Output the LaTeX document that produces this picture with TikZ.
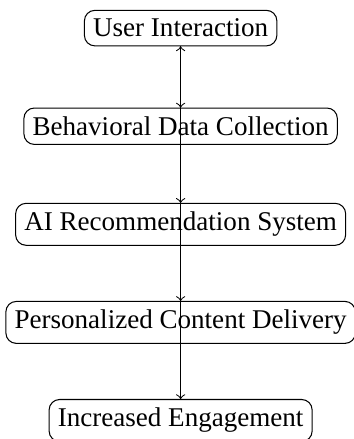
\documentclass[tikz,border=0pt]{standalone}
\usepackage{fontspec}
\setmainfont{Liberation Serif}
\tikzset{
  stage/.style={draw, rounded corners, align=center, font=\fontsize{10.4}{12.5}\selectfont},
  flow/.style={->},
}
\begin{document}
\begin{tikzpicture}
    \useasboundingbox (-2.44,0.38) rectangle (2.34,-5.55);
    \node[stage] (user) at (0.00,0.00) {User Interaction};
    \node[stage] (collect) at (0.00,-1.325) {Behavioral Data Collection};
    \node[stage] (recsys) at (0.00,-2.65) {AI Recommendation System};
    \node[stage] (deliver) at (0.00,-3.975) {Personalized Content Delivery};
    \node[stage] (engage) at (0.00,-5.30) {Increased Engagement};
    \draw[flow] (user) -- (collect);
    \draw[flow] (collect) -- (recsys);
    \draw[flow] (recsys) -- (deliver);
    \draw[flow] (deliver) -- (engage);
    % feedback back to the top
    \draw[flow] (engage) -- (user);
  \end{tikzpicture}
\end{document}
